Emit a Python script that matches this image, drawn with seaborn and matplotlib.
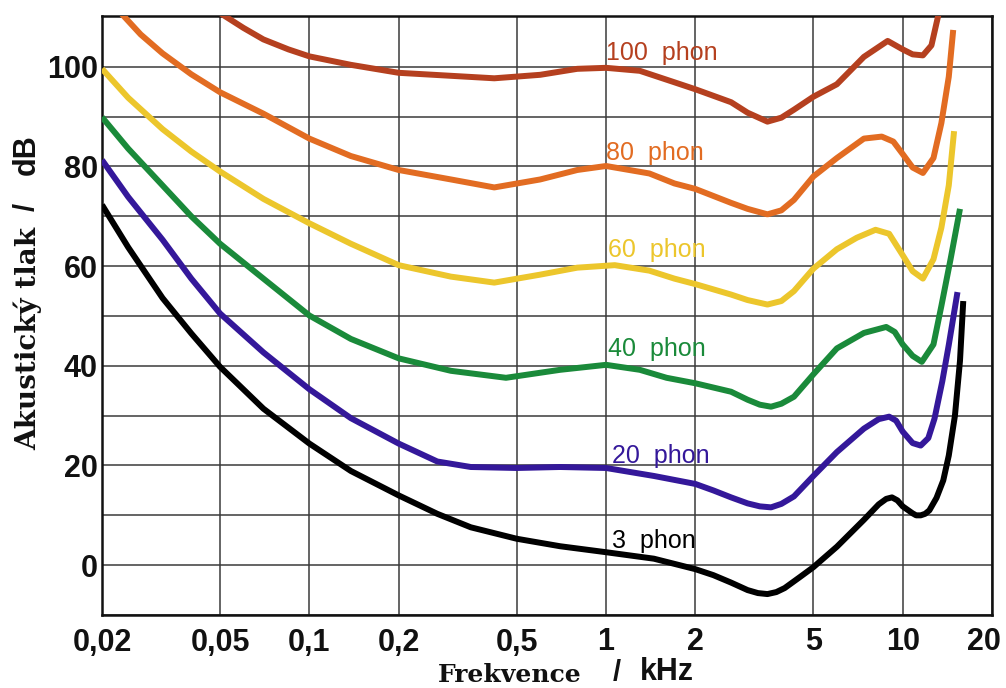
import numpy as np
import pandas as pd
import matplotlib
matplotlib.use("Agg")
import matplotlib.pyplot as plt
from matplotlib.ticker import NullLocator, FixedLocator
from matplotlib.transforms import ScaledTranslation
import seaborn as sns

# ---- data ----
f3 = [0.02, 0.0245, 0.032, 0.04, 0.05, 0.07, 0.1, 0.138, 0.2, 0.27, 0.35, 0.5, 0.7, 1.0, 1.45, 2.0,
      2.3, 2.64, 3.0, 3.25, 3.5, 3.75, 4.0, 4.5, 5.0, 6.0, 7.4, 8.3, 8.8, 9.2, 9.6, 10.0, 10.8,
      11.1, 11.5, 11.9, 12.3, 13.0, 13.7, 14.3, 15.0, 15.6, 16.0]
db3 = [72.3, 63.8, 53.6, 46.5, 39.8, 31.4, 24.4, 18.9, 14.0, 10.3, 7.6, 5.3, 3.8, 2.6, 1.3, -0.8,
       -2.0, -3.5, -5.0, -5.6, -5.8, -5.4, -4.6, -2.4, -0.4, 3.7, 9.1, 12.2, 13.3, 13.6, 13.0, 11.8,
       10.4, 10.0, 10.0, 10.3, 11.0, 13.5, 17.0, 22.0, 30.0, 41.0, 53.0]

f20 = [0.02, 0.0245, 0.032, 0.04, 0.05, 0.07, 0.1, 0.138, 0.2, 0.27, 0.35, 0.5, 0.7, 1.0, 1.45,
       2.0, 2.3, 2.64, 3.0, 3.3, 3.6, 3.9, 4.3, 5.0, 6.0, 7.4, 8.3, 9.0, 9.5, 10.0, 10.8, 11.5,
       12.2, 12.8, 13.6, 14.3, 15.3]
db20 = [81.3, 73.9, 65.3, 57.5, 50.5, 42.7, 35.3, 29.5, 24.4, 20.8, 19.7, 19.5, 19.7, 19.5, 17.9,
        16.3, 15.0, 13.6, 12.4, 11.8, 11.6, 12.3, 13.8, 17.9, 22.7, 27.4, 29.3, 29.8, 29.0, 26.8,
        24.5, 24.0, 25.5, 29.4, 36.9, 44.2, 54.8]

f40 = [0.02, 0.0245, 0.032, 0.04, 0.05, 0.07, 0.1, 0.138, 0.2, 0.3, 0.46, 0.7, 1.0, 1.3, 1.6, 2.0,
       2.64, 3.0, 3.3, 3.6, 3.9, 4.3, 5.0, 6.0, 7.4, 8.8, 9.4, 10.0, 10.8, 11.6, 12.7, 13.5, 14.5,
       15.6]
db40 = [89.9, 83.6, 76.2, 70.0, 64.5, 57.5, 50.1, 45.4, 41.5, 39.0, 37.6, 39.2, 40.2, 39.2, 37.6,
        36.5, 34.8, 33.2, 32.2, 31.8, 32.4, 33.8, 38.3, 43.5, 46.6, 47.8, 46.8, 44.3, 42.0, 40.8,
        44.3, 52.0, 61.4, 71.5]

f60 = [0.02, 0.0245, 0.032, 0.04, 0.05, 0.07, 0.1, 0.138, 0.2, 0.3, 0.42, 0.6, 0.8, 1.07, 1.4, 1.7,
       2.0, 2.64, 3.0, 3.5, 3.9, 4.3, 5.0, 6.0, 7.0, 8.1, 9.0, 10.0, 10.8, 11.7, 12.7, 13.5, 14.3,
       14.9]
db60 = [99.6, 93.8, 87.5, 83.0, 79.0, 73.5, 68.6, 64.5, 60.2, 57.9, 56.7, 58.3, 59.7, 60.2, 59.1,
        57.5, 56.4, 54.3, 53.2, 52.3, 53.0, 55.0, 59.5, 63.4, 65.7, 67.3, 66.5, 62.2, 59.0, 57.5,
        61.4, 67.7, 76.2, 87.1]

f80 = [0.023, 0.027, 0.032, 0.04, 0.05, 0.07, 0.1, 0.138, 0.2, 0.3, 0.42, 0.6, 0.8, 1.0, 1.4, 1.7,
       2.0, 2.64, 3.0, 3.5, 3.9, 4.3, 5.0, 6.0, 7.4, 8.5, 9.3, 10.0, 10.8, 11.7, 12.7, 13.5, 14.3,
       14.8]
db80 = [111.0, 106.5, 102.7, 98.5, 94.9, 90.6, 85.6, 82.1, 79.3, 77.4, 75.8, 77.4, 79.3, 80.1,
        78.6, 76.6, 75.5, 72.7, 71.5, 70.4, 71.2, 73.3, 78.0, 81.7, 85.6, 86.0, 85.0, 82.5, 79.8,
        78.7, 81.7, 88.7, 98.0, 107.4]

f100 = [0.05, 0.06, 0.07, 0.085, 0.1, 0.138, 0.2, 0.3, 0.42, 0.6, 0.8, 1.0, 1.3, 1.7, 2.0, 2.64,
        3.0, 3.5, 3.9, 4.3, 5.0, 6.0, 7.4, 8.9, 10.0, 10.8, 11.7, 12.5, 13.2]
db100 = [110.8, 107.8, 105.5, 103.5, 102.1, 100.4, 98.8, 98.2, 97.7, 98.4, 99.6, 99.8, 99.2, 96.9,
         95.5, 92.9, 90.8, 89.0, 89.8, 91.4, 94.0, 96.5, 102.0, 105.2, 103.5, 102.5, 102.3, 104.3,
         110.5]

curve_names = ["3  phon", "20  phon", "40  phon", "60  phon", "80  phon", "100  phon"]
curve_freqs = [f3, f20, f40, f60, f80, f100]
curve_dbs = [db3, db20, db40, db60, db80, db100]
curve_colors = ["#000000", "#34189a", "#1a8a3a", "#ecc62c", "#e26c22", "#b5401f"]
label_x = [1.047, 1.047, 1.015, 1.015, 1.0, 1.0]
label_y = [3.4, 20.5, 42.0, 61.8, 81.3, 101.4]

xtick_vals = [0.02, 0.05, 0.1, 0.2, 0.5, 1, 2, 5, 10, 20]
xtick_labels = ["0,02", "0,05", "0,1", "0,2", "0,5", "1", "2", "5", "10", "20"]
ytick_vals = [0, 20, 40, 60, 80, 100]
ytick_minor = [-10, 10, 30, 50, 70, 90]

# ---- figure ----
sns.set_theme(style="white")
plt.rcParams["font.family"] = ["Liberation Sans", "DejaVu Sans"]

fig = plt.figure(figsize=(10.06, 6.88), dpi=100)
ax = fig.add_axes([102 / 1006, 73 / 688, 890 / 1006, 599 / 688])

for name, fx, dy, col in zip(curve_names, curve_freqs, curve_dbs, curve_colors):
    df = pd.DataFrame({"f": fx, "db": dy})
    sns.lineplot(data=df, x="f", y="db", ax=ax, color=col, linewidth=4.3,
                 sort=False, estimator=None, solid_capstyle="butt",
                 solid_joinstyle="round", zorder=3)

ax.set_xscale("log")
ax.set_xlim(0.02, 20)
ax.set_ylim(-10, 110.2)
ax.xaxis.set_major_locator(FixedLocator(xtick_vals))
ax.xaxis.set_minor_locator(NullLocator())
ax.set_xticklabels(xtick_labels)
ax.yaxis.set_major_locator(FixedLocator(ytick_vals))
ax.yaxis.set_minor_locator(FixedLocator(ytick_minor))
ax.grid(True, which="both", axis="both", color="#3a3a3a", linewidth=1.1, zorder=1)
ax.set_axisbelow(True)
ax.tick_params(axis="both", which="both", length=0)
ax.tick_params(axis="x", pad=9)
ax.tick_params(axis="y", pad=3)
for lab in ax.get_xticklabels() + ax.get_yticklabels():
    lab.set_fontsize(22)
    lab.set_fontweight("bold")
    lab.set_color("#111111")
# keep the last x tick label ("20") inside the figure
last = ax.get_xticklabels()[-1]
last.set_transform(last.get_transform() + ScaledTranslation(-8 / 100, 0, fig.dpi_scale_trans))
ax.set_xlabel("")
ax.set_ylabel("")
for sp in ax.spines.values():
    sp.set_color("#111111")
    sp.set_linewidth(1.8)
    sp.set_visible(True)

for name, lx, ly, col in zip(curve_names, label_x, label_y, curve_colors):
    ax.text(lx, ly, name, color=col, fontsize=18, ha="left", va="baseline",
            family=["Liberation Sans", "DejaVu Sans"], zorder=4)

# axis titles (serif word + sans unit)
fig.text(438 / 1006, 1 / 688, "Frekvence", family=["DejaVu Serif"], fontweight="bold",
         fontsize=18, ha="left", va="bottom", color="#111111")
fig.text(617 / 1006, 1 / 688, "/", family=["Liberation Sans"], fontweight="bold",
         fontsize=21, ha="center", va="bottom", color="#111111")
fig.text(640 / 1006, 1 / 688, "kHz", family=["Liberation Sans"], fontweight="bold",
         fontsize=22, ha="left", va="bottom", color="#111111")

fig.text(28 / 1006, 1 - 338 / 688, "Akustický tlak", family=["DejaVu Serif"], fontweight="bold",
         fontsize=20, rotation=90, ha="center", va="center", color="#111111")
fig.text(27 / 1006, 1 - 207 / 688, "/", family=["Liberation Sans"], fontweight="bold",
         fontsize=21, rotation=90, ha="center", va="center", color="#111111")
fig.text(27 / 1006, 1 - 155 / 688, "dB", family=["Liberation Sans"], fontweight="bold",
         fontsize=22, rotation=90, ha="center", va="center", color="#111111")

fig.savefig("out.png", dpi=100, facecolor="white")
